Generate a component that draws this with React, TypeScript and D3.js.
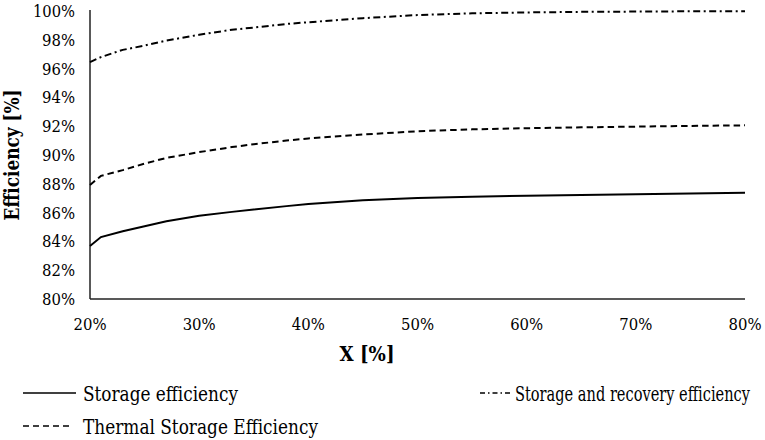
import { useEffect, useRef } from 'react'
import * as d3 from 'd3'

// X [%]
const xValues = [20, 21, 23, 25, 27, 30, 33, 35, 38, 40, 45, 50, 55, 60, 65, 70, 75, 80]

// Efficiency [%]
const storageEff = [83.68, 84.3, 84.7, 85.05, 85.4, 85.78, 86.05, 86.22, 86.45, 86.6, 86.85, 87.02, 87.1, 87.17, 87.22, 87.27, 87.32, 87.37]
const thermalEff = [87.92, 88.55, 88.95, 89.4, 89.8, 90.2, 90.55, 90.75, 91.0, 91.15, 91.42, 91.65, 91.78, 91.86, 91.92, 91.97, 92.02, 92.06]
const recoveryEff = [96.45, 96.8, 97.3, 97.6, 97.95, 98.35, 98.7, 98.85, 99.1, 99.22, 99.5, 99.72, 99.84, 99.9, 99.94, 99.96, 99.98, 99.99]

const xTicks = [20, 30, 40, 50, 60, 70, 80]
const yTicks = [80, 82, 84, 86, 88, 90, 92, 94, 96, 98, 100]

const series = [
  { name: 'Storage efficiency', values: storageEff, dash: null },
  { name: 'Thermal Storage Efficiency', values: thermalEff, dash: '6.5,4' },
  { name: 'Storage and recovery efficiency', values: recoveryEff, dash: '7,3.5,2,3.5' }
]

const width = 765
const height = 440
const font = '"DejaVu Serif", serif'

// Times-like width of a percent label, used to squeeze the wider serif font
const pctWidth = (s: string, size: number) => (s.length - 1) * 0.5 * size + 0.833 * size

export default function App() {
  const svgRef = useRef<SVGSVGElement>(null)

  useEffect(() => {
    if (!svgRef.current) return
    const svg = d3.select(svgRef.current)
    svg.selectAll('*').remove()

    const margin = { top: 11, right: 20, bottom: 141, left: 90 }
    const x = d3.scaleLinear().domain([20, 80]).range([margin.left, width - margin.right])
    const y = d3.scaleLinear().domain([80, 100]).range([height - margin.bottom, margin.top])

    // axes lines
    svg.append('line')
      .attr('x1', x(20)).attr('x2', x(20))
      .attr('y1', y(100) - 1).attr('y2', y(80))
      .attr('stroke', '#222').attr('stroke-width', 1.5)
    svg.append('line')
      .attr('x1', x(20)).attr('x2', x(80))
      .attr('y1', y(80)).attr('y2', y(80))
      .attr('stroke', '#222').attr('stroke-width', 1.5)

    // y tick labels
    svg.append('g')
      .selectAll('text')
      .data(yTicks)
      .join('text')
      .attr('x', 75)
      .attr('y', d => y(d))
      .attr('dy', '0.35em')
      .attr('text-anchor', 'end')
      .attr('font-family', font)
      .attr('font-size', 17)
      .attr('fill', '#000')
      .attr('textLength', d => pctWidth(`${d}%`, 18))
      .attr('lengthAdjust', 'spacingAndGlyphs')
      .text(d => `${d}%`)

    // x tick labels
    svg.append('g')
      .selectAll('text')
      .data(xTicks)
      .join('text')
      .attr('x', d => x(d))
      .attr('y', 330)
      .attr('text-anchor', 'middle')
      .attr('font-family', font)
      .attr('font-size', 17)
      .attr('fill', '#000')
      .attr('textLength', d => pctWidth(`${d}%`, 18))
      .attr('lengthAdjust', 'spacingAndGlyphs')
      .text(d => `${d}%`)

    // axis titles
    svg.append('text')
      .attr('x', 367)
      .attr('y', 361)
      .attr('text-anchor', 'middle')
      .attr('font-family', font)
      .attr('font-size', 20)
      .attr('font-weight', 'bold')
      .attr('textLength', 55)
      .attr('lengthAdjust', 'spacingAndGlyphs')
      .text('X [%]')

    svg.append('text')
      .attr('transform', `translate(19, ${(y(100) + y(80)) / 2}) rotate(-90)`)
      .attr('text-anchor', 'middle')
      .attr('font-family', font)
      .attr('font-size', 20)
      .attr('font-weight', 'bold')
      .attr('textLength', 131)
      .attr('lengthAdjust', 'spacingAndGlyphs')
      .text('Efficiency [%]')

    // lines
    const line = d3.line<number>()
      .x((_, i) => x(xValues[i]))
      .y(d => y(d))

    series.forEach(s => {
      svg.append('path')
        .datum(s.values)
        .attr('fill', 'none')
        .attr('stroke', '#000')
        .attr('stroke-width', 2)
        .attr('stroke-dasharray', s.dash)
        .attr('d', line)
    })

    // legend (right item is end-anchored so it stays inside the frame)
    const legendItems = [
      { s: series[0], x: 23, y: 393, len: 53, tx: 83, tw: 155, anchor: 'start' },
      { s: series[2], x: 480, y: 393, len: 33, tx: 750, tw: 235, anchor: 'end' },
      { s: series[1], x: 23, y: 426, len: 48, tx: 83, tw: 235, anchor: 'start' }
    ]
    legendItems.forEach(({ s, x: lx, y: ly, len, tx, tw, anchor }, i) => {
      svg.append('line')
        .attr('x1', lx).attr('x2', lx + len)
        .attr('y1', ly).attr('y2', ly)
        .attr('stroke', '#000')
        .attr('stroke-width', 1.5)
        .attr('stroke-dasharray', s.dash ? (i === 1 ? '5,3,1.5,3' : '6,4') : null)
      svg.append('text')
        .attr('x', tx)
        .attr('y', ly + 8)
        .attr('text-anchor', anchor)
        .attr('font-family', font)
        .attr('font-size', 20)
        .attr('fill', '#000')
        .attr('textLength', tw)
        .attr('lengthAdjust', 'spacingAndGlyphs')
        .text(s.name)
    })
  }, [])

  return (
    <svg
      ref={svgRef}
      width={width}
      height={height}
      style={{ position: 'absolute', left: 0, top: 0, background: '#fff' }}
    />
  )
}
